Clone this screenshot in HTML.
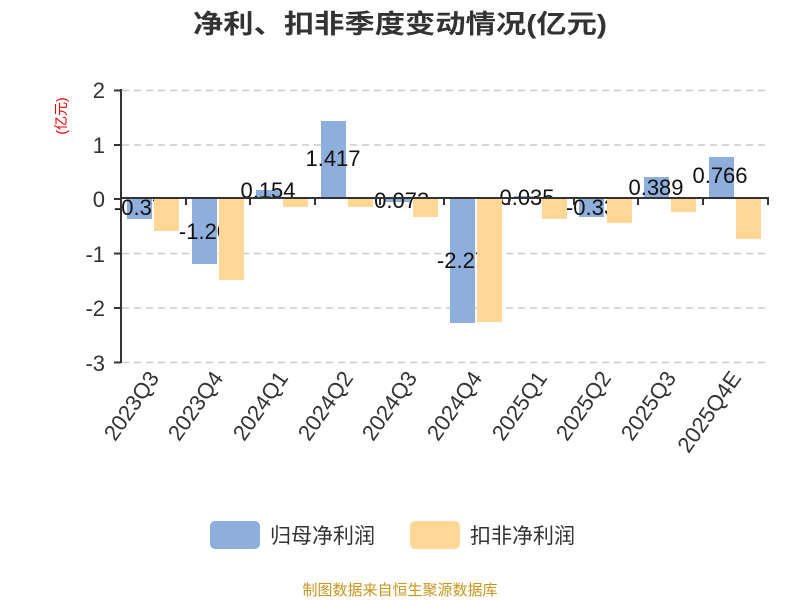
<!DOCTYPE html>
<html><head><meta charset="utf-8"><style>html,body{margin:0;padding:0;background:#fff;}svg{display:block}</style></head>
<body>
<svg width="800" height="600" xmlns="http://www.w3.org/2000/svg" font-family="'Liberation Sans','Noto Sans CJK SC',sans-serif">
<text x="400" y="33" text-anchor="middle" font-size="26" font-weight="bold" fill="#333" textLength="414" lengthAdjust="spacingAndGlyphs">净利、扣非季度变动情况(亿元)</text>
<text transform="translate(66,116) rotate(-90)" text-anchor="middle" font-size="14" fill="#e00">(亿元)</text>
<g stroke="#ccc" stroke-width="1.5" stroke-dasharray="7,5">
<line x1="122" y1="90.5" x2="768" y2="90.5"/>
<line x1="122" y1="145" x2="768" y2="145"/>
<line x1="122" y1="253.5" x2="768" y2="253.5"/>
<line x1="122" y1="308" x2="768" y2="308"/>
<line x1="122" y1="362.5" x2="768" y2="362.5"/>
</g>
<g font-size="22" fill="#333" text-anchor="end">
<text x="105" y="98">2</text><text x="105" y="153">1</text><text x="105" y="207">0</text>
<text x="105" y="262">-1</text><text x="105" y="316">-2</text><text x="105" y="371">-3</text>
</g>
<g fill="#8eaedb">
<rect x="127" y="198" width="25" height="21"/>
<rect x="192" y="198" width="25" height="66"/>
<rect x="256" y="190" width="25" height="8"/>
<rect x="321" y="121" width="25" height="77"/>
<rect x="385" y="198" width="25" height="4"/>
<rect x="450" y="198" width="25" height="125"/>
<rect x="514" y="196" width="25" height="2"/>
<rect x="579" y="198" width="25" height="19"/>
<rect x="644" y="177" width="25" height="21"/>
<rect x="709" y="157" width="25" height="41"/>
</g>
<g font-size="22" fill="#111" text-anchor="middle">
<text x="139" y="215">-0.37</text>
<text x="204" y="239">-1.20</text>
<text x="268" y="198">0.154</text>
<text x="333" y="166">1.417</text>
<text x="398" y="208">-0.073</text>
<text x="462" y="268">-2.27</text>
<text x="527" y="205">0.035</text>
<text x="591" y="215">-0.33</text>
<text x="656" y="195">0.389</text>
<text x="720" y="183">0.766</text>
</g>
<g fill="#ffd898">
<rect x="154" y="198" width="25" height="33"/>
<rect x="219" y="198" width="25" height="82"/>
<rect x="283" y="198" width="25" height="9"/>
<rect x="348" y="198" width="25" height="9"/>
<rect x="413" y="198" width="25" height="19"/>
<rect x="477" y="198" width="25" height="124"/>
<rect x="542" y="198" width="25" height="21"/>
<rect x="607" y="198" width="25" height="25"/>
<rect x="671" y="198" width="25" height="14"/>
<rect x="736" y="198" width="25" height="41"/>
</g>
<g stroke="#333" stroke-width="2" fill="none">
<line x1="121" y1="89" x2="121" y2="363"/>
<line x1="114" y1="90.5" x2="121" y2="90.5"/>
<line x1="114" y1="145" x2="121" y2="145"/>
<line x1="114" y1="199" x2="121" y2="199"/>
<line x1="114" y1="253.5" x2="121" y2="253.5"/>
<line x1="114" y1="308" x2="121" y2="308"/>
<line x1="114" y1="362.5" x2="121" y2="362.5"/>
<line x1="121" y1="198" x2="769" y2="198"/>
<g>
<line x1="186" y1="198" x2="186" y2="205"/><line x1="250" y1="198" x2="250" y2="205"/>
<line x1="315" y1="198" x2="315" y2="205"/><line x1="380" y1="198" x2="380" y2="205"/>
<line x1="444" y1="198" x2="444" y2="205"/><line x1="509" y1="198" x2="509" y2="205"/>
<line x1="574" y1="198" x2="574" y2="205"/><line x1="638" y1="198" x2="638" y2="205"/>
<line x1="703" y1="198" x2="703" y2="205"/><line x1="768" y1="198" x2="768" y2="205"/>
</g>
</g>
<g font-size="22" fill="#333" text-anchor="end">
<text transform="translate(160,378) rotate(-55)">2023Q3</text>
<text transform="translate(224,378) rotate(-55)">2023Q4</text>
<text transform="translate(289,378) rotate(-55)">2024Q1</text>
<text transform="translate(354,378) rotate(-55)">2024Q2</text>
<text transform="translate(418,378) rotate(-55)">2024Q3</text>
<text transform="translate(483,378) rotate(-55)">2024Q4</text>
<text transform="translate(548,378) rotate(-55)">2025Q1</text>
<text transform="translate(612,378) rotate(-55)">2025Q2</text>
<text transform="translate(677,378) rotate(-55)">2025Q3</text>
<text transform="translate(742,378) rotate(-55)">2025Q4E</text>
</g>
<rect x="210" y="521" width="50" height="28" rx="5" fill="#8eaedb"/>
<text x="270" y="543" font-size="21" fill="#333">归母净利润</text>
<rect x="410" y="521" width="50" height="28" rx="5" fill="#ffd898"/>
<text x="470" y="543" font-size="21" fill="#333">扣非净利润</text>
<text x="400" y="595" text-anchor="middle" font-size="15" fill="#c8961e">制图数据来自恒生聚源数据库</text>
</svg>
</body></html>
